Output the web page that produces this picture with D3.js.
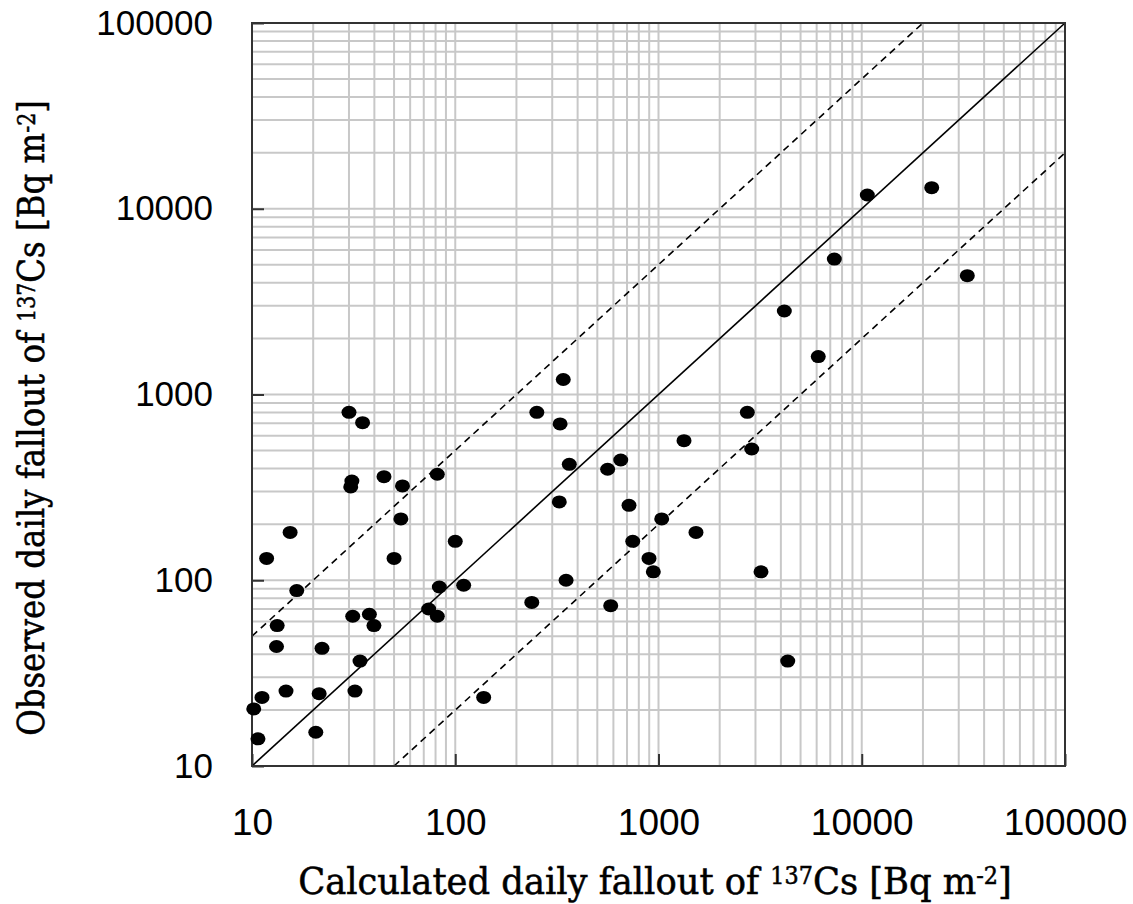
<!DOCTYPE html>
<html>
<head>
<meta charset="utf-8">
<script src="https://cdn.jsdelivr.net/npm/d3@7"></script>
<style>
  body { margin: 0; background: #fff; }
  .tick text { font-family: "Liberation Sans", Arial, sans-serif; fill: #000; }
  .title { font-family: "DejaVu Serif Condensed", "DejaVu Serif", serif; fill: #000; stroke: #000; stroke-width: 0.5; }
</style>
</head>
<body>
<div id="chart"></div>
<script>
// calculated (x) vs observed (y) daily fallout, Bq m-2
const calculated = [
  30, 35, 31, 30.6, 44.6, 55, 81.6, 54, 15.4, 11.8, 50, 100,
  252, 328, 340, 364, 562, 652, 325, 716, 747, 898, 943,
  16.6, 83.5, 110, 238, 351, 582, 13.3, 31.3, 37.8, 39.8, 74, 81.6,
  13.2, 22.1, 34, 11.2, 14.7, 21.4, 32.1, 10.2, 10.7, 20.6, 138,
  2735, 1335, 2875, 1037, 1529, 3194, 4323,
  10650, 22090, 7330, 33060, 4160, 6110
]
const observed = [
  802, 705, 342, 318, 361, 322, 372, 214, 181, 131, 131, 162,
  802, 694, 1204, 421, 396, 444, 264, 253, 162, 131, 111,
  88, 92, 94, 76, 100, 73, 57, 64, 65.6, 57, 70, 64,
  44, 43, 36.7, 23.4, 25.3, 24.5, 25.3, 20.3, 14, 15.2, 23.4,
  802, 564, 509, 214, 181, 111, 36.7,
  11860, 12980, 5360, 4360, 2815, 1600
]
const majorTicks = [10, 100, 1000, 10000, 100000]
const ratios = [1, 5, 0.2]   // 1:1 line and factor-of-5 bands

const margin = { top: 23, right: 68, bottom: 138, left: 252 },
    width = 1133 - margin.left - margin.right,
    height = 904 - margin.top - margin.bottom;

const svg = d3.select('#chart').append('svg')
    .attr('width', 1133)
    .attr('height', 904)
    .append('g')
    .attr('transform', `translate(${margin.left},${margin.top})`);

const xScale = d3.scaleLog().domain([10, 100000]).range([0, width])
const yScale = d3.scaleLog().domain([10, 100000]).range([height, 0])

// grid
const grid = svg.append('g').attr('stroke', '#c8c8c8').attr('stroke-width', 2)
grid.selectAll('.vx').data(xScale.ticks()).join('line')
    .attr('x1', d => xScale(d)).attr('x2', d => xScale(d))
    .attr('y1', 0).attr('y2', height)
grid.selectAll('.hy').data(yScale.ticks()).join('line')
    .attr('y1', d => yScale(d)).attr('y2', d => yScale(d))
    .attr('x1', 0).attr('x2', width)

// axes
const xAxis = svg.append('g')
    .attr('transform', `translate(0,${height})`)
    .call(d3.axisBottom(xScale).tickValues(majorTicks).tickFormat(d3.format('d'))
        .tickSizeInner(-12).tickSizeOuter(0).tickPadding(43))
xAxis.selectAll('.tick text').attr('font-size', 37)
const yAxis = svg.append('g')
    .call(d3.axisLeft(yScale).tickValues(majorTicks).tickFormat(d3.format('d'))
        .tickSizeInner(-12).tickSizeOuter(0).tickPadding(39))
yAxis.selectAll('.tick text').attr('font-size', 35)
svg.selectAll('.domain').remove()
svg.selectAll('.tick line').attr('stroke', '#333').attr('stroke-width', 2)

// reference lines
const lineGen = d3.line().x(d => xScale(d[0])).y(d => yScale(d[1]))
svg.append('g').selectAll('path').data(ratios).join('path')
    .attr('d', r => {
        const x0 = Math.max(10, 10 / r), x1 = Math.min(100000, 100000 / r)
        return lineGen([[x0, x0 * r], [x1, x1 * r]])
    })
    .attr('fill', 'none')
    .attr('stroke', '#000')
    .attr('stroke-width', 1.6)
    .attr('stroke-dasharray', r => r === 1 ? null : '7,5')

// frame
svg.append('rect')
    .attr('width', width).attr('height', height)
    .attr('fill', 'none').attr('stroke', '#333').attr('stroke-width', 2)

// points
svg.append('g').selectAll('ellipse').data(calculated).join('ellipse')
    .attr('cx', d => xScale(d))
    .attr('cy', (d, i) => yScale(observed[i]))
    .attr('rx', 7.5).attr('ry', 6.5)
    .attr('fill', '#000')

// titles
function addTitle(g, target) {
    const t = g.append('text').attr('class', 'title').attr('font-size', 38)
    t.append('tspan').text(target.pre)
    t.append('tspan').attr('font-size', 24).attr('baseline-shift', '40%').text(target.sup1)
    t.append('tspan').text('Cs [Bq m')
    t.append('tspan').attr('font-size', 24).attr('baseline-shift', '40%').text('-2')
    t.append('tspan').text(']')
    const w = t.node().getComputedTextLength()
    t.attr('text-anchor', 'middle')
        .attr('transform', `scale(${target.len / w},1)`)
}

const xTitle = svg.append('g').attr('transform', `translate(${655 - margin.left},${894 - margin.top})`)
addTitle(xTitle, { pre: 'Calculated daily fallout of ', sup1: '137', len: 714 })

const yTitle = svg.append('g').attr('transform', `translate(${44 - margin.left},${418 - margin.top}) rotate(-90)`)
addTitle(yTitle, { pre: 'Observed daily fallout of ', sup1: '137', len: 636 })
</script>
</body>
</html>
